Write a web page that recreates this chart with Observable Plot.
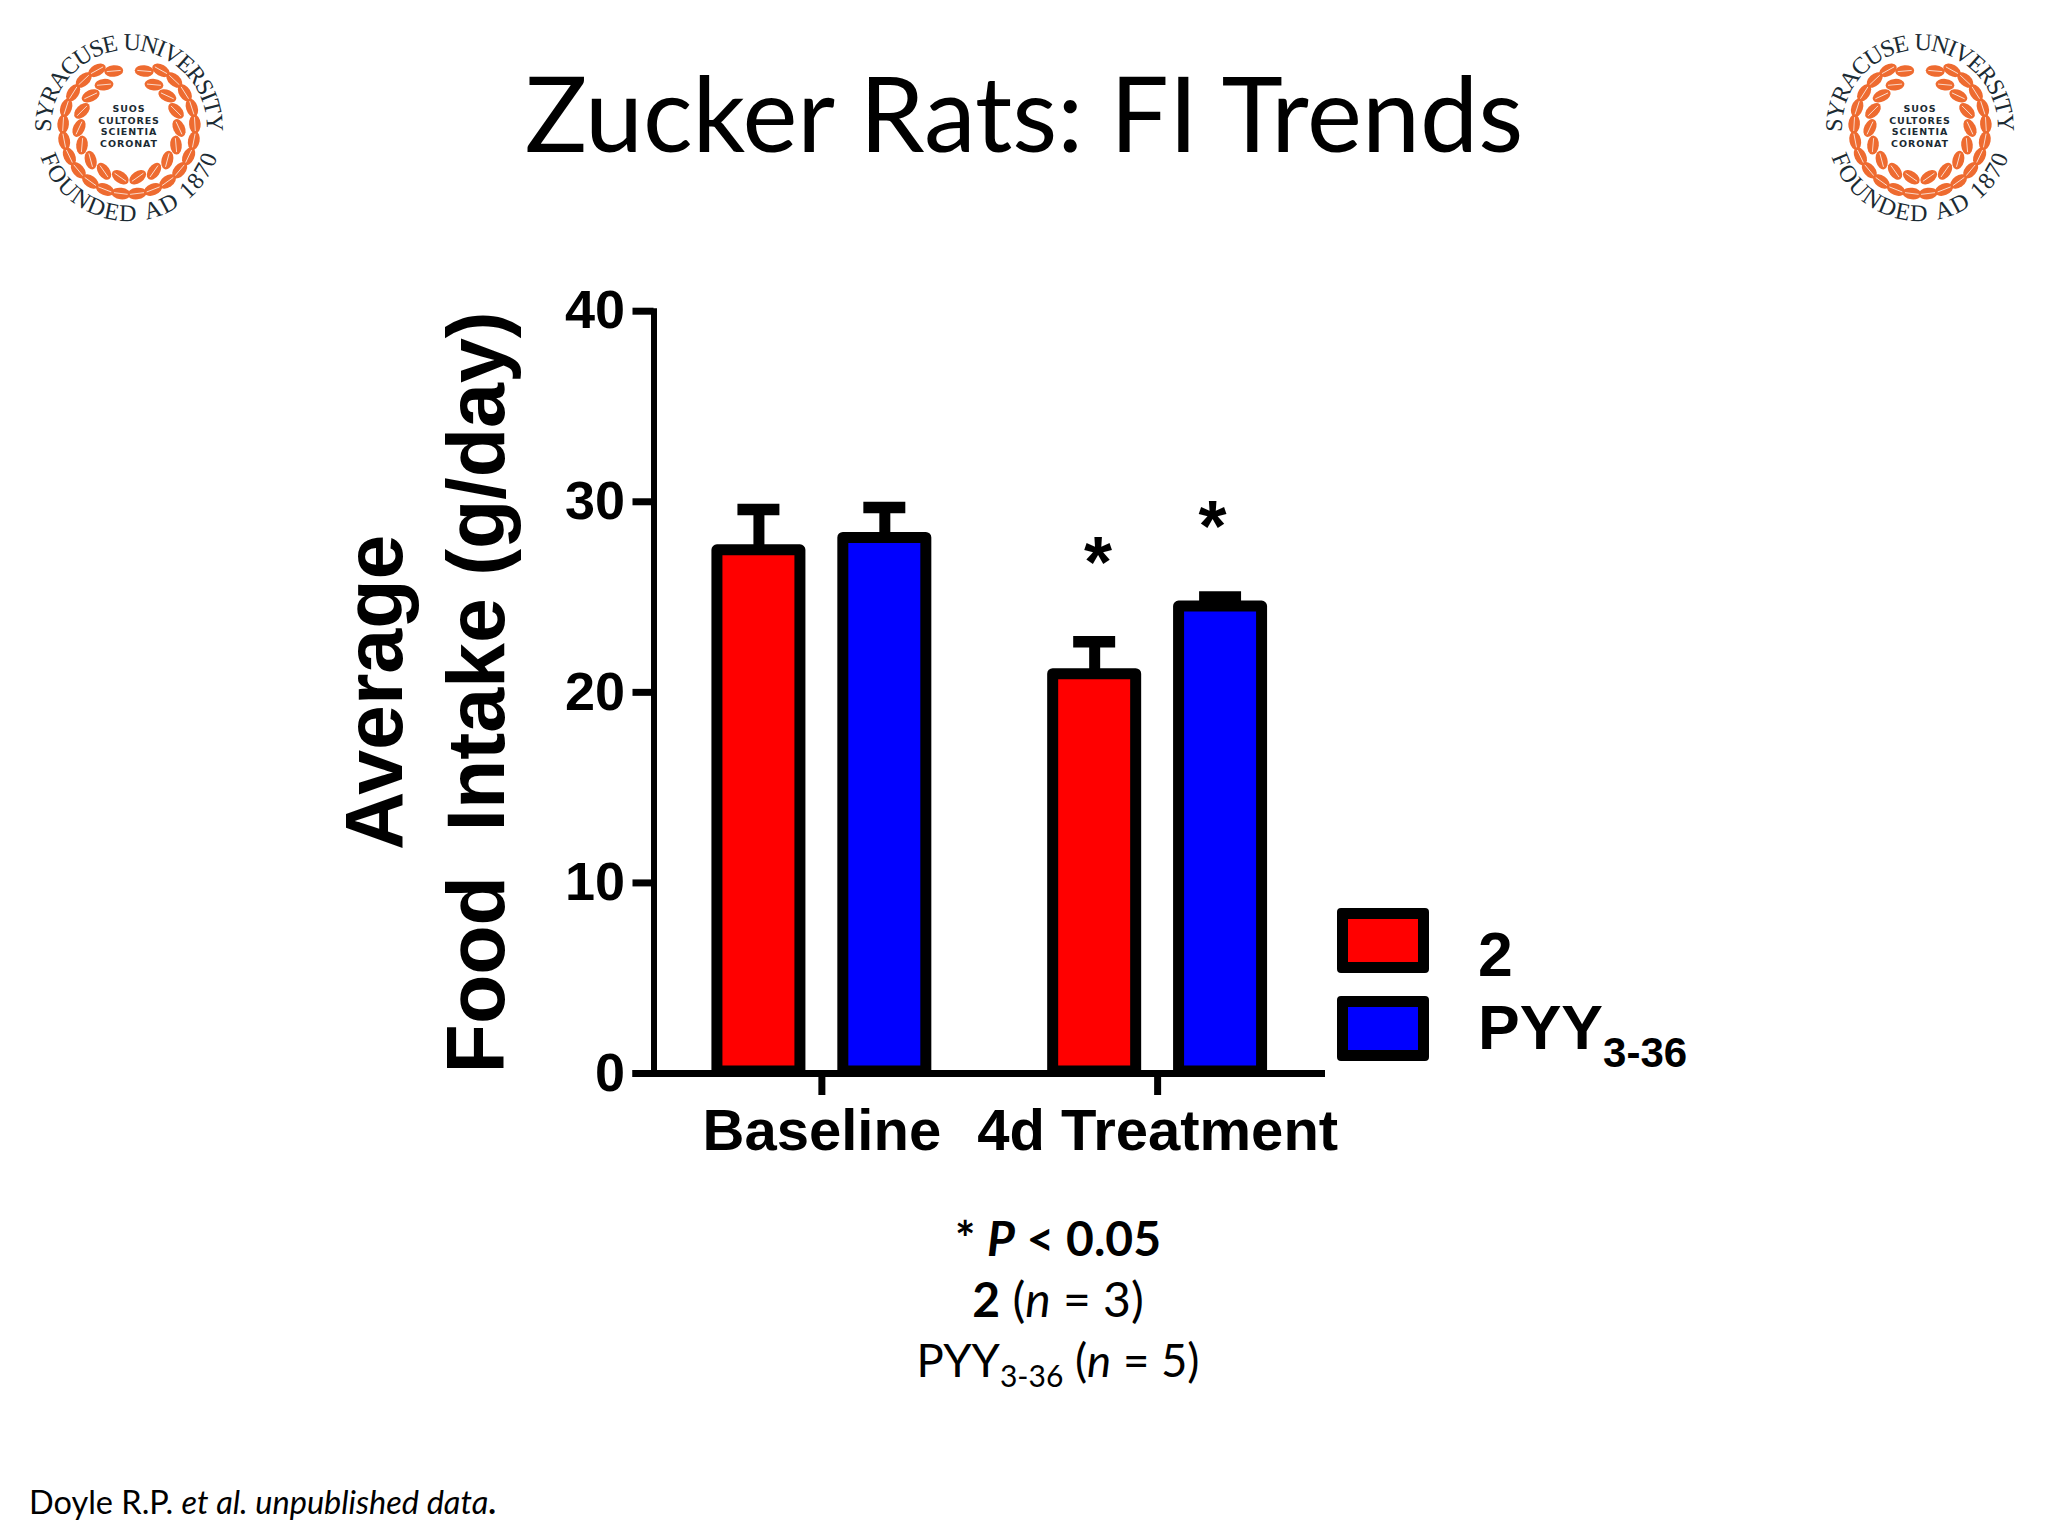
<!DOCTYPE html>
<html>
<head>
<meta charset="utf-8">
<script src="https://cdn.jsdelivr.net/npm/d3@7"></script>
<script src="https://cdn.jsdelivr.net/npm/@observablehq/plot@0.6"></script>
<style>
html,body{margin:0;padding:0;background:#fff;}
#slide{position:relative;width:2048px;height:1536px;overflow:hidden;background:#fff;color:#000;}
#head{height:240px;position:relative;}
#title{position:absolute;left:0;width:2048px;top:47px;text-align:center;font:400 104px/130px Lato,sans-serif;}
.logo{position:absolute;top:0;width:256px;height:256px;}
#chart svg{display:block;}
#legend div.sw{position:absolute;left:1337px;width:70px;height:42.7px;border:11px solid #000;border-radius:4px;}
#legend div.lb{position:absolute;left:1478px;font:bold 62.5px/70px "Liberation Sans",Arial,sans-serif;white-space:nowrap;}
#legend sub{font-size:42px;line-height:0;vertical-align:-18px;}
#notes{position:absolute;left:558px;width:1000px;top:1207px;text-align:center;font:400 48px/61px Lato,sans-serif;}
#notes .n3{font-size:45.5px;}
#notes sub{font-size:30px;line-height:0;vertical-align:-10px;}
#source{position:absolute;left:29px;top:1483px;font:400 32.5px/38px Lato,sans-serif;white-space:nowrap;}
</style>
</head>
<body>
<div id="slide">
  <div id="head">
    <svg class="logo" id="logoL" style="left:1px" viewBox="0 0 256 256"></svg>
    <svg class="logo" id="logoR" style="left:1792px" viewBox="0 0 256 256"></svg>
    <div id="title"></div>
  </div>
  <div id="chart"></div>
  <div id="legend"></div>
  <div id="notes"></div>
  <div id="source"></div>
</div>
<script>
const titleText = "Zucker Rats: FI Trends";
const periods = ["Baseline", "4d Treatment"];
const seriesNames = ["2", "PYY3-36"];
const seriesColors = ["#ff0000", "#0000ff"];
const periodOf = [0, 0, 1, 1];
const seriesOf = [0, 1, 0, 1];
const means = [27.45, 28.1, 20.95, 24.5];
const upper = [29.6, 29.7, 22.65, 25.0];
const starLevels = [null, null, 27.5, 29.4];
const yTicks = [0, 10, 20, 30, 40];
const yLabel = "Average\nFood\u00a0\u00a0Intake (g/day)";

// grouped bars on a group-index axis: each group spans one unit
const dodge = 0.1875, barHalf = 0.1236, capHalf = 0.0625;
const rows = means.map((m, i) => ({
  c: periodOf[i] + (seriesOf[i] ? dodge : -dodge),
  series: seriesNames[seriesOf[i]], mean: m, hi: upper[i], star: starLevels[i]
}));
const stars = rows.filter(d => d.star != null);

const chart = Plot.plot({
  width: 2048, height: 940,
  marginLeft: 653.5, marginRight: 723, marginTop: 70.7, marginBottom: 107,
  style: {fontFamily: "'Liberation Sans', Arial, sans-serif", fontWeight: "bold", background: "transparent", color: "#000"},
  y: {domain: [0, 40]},
  x: {domain: [-0.5, 1.5]},
  color: {domain: seriesNames, range: seriesColors},
  marks: [
    Plot.ruleX(rows, {x: "c", y1: "mean", y2: "hi", stroke: "#000", strokeWidth: 11}),
    Plot.ruleY(rows, {x1: d => d.c - capHalf, x2: d => d.c + capHalf, y: "hi", stroke: "#000", strokeWidth: 11.5}),
    Plot.rectY(rows, {x1: d => d.c - barHalf, x2: d => d.c + barHalf, y1: 0, y2: "mean", insetBottom: 2.1, fill: "series", stroke: "#000", strokeWidth: 11, strokeLinejoin: "round"}),
    Plot.text(stars.slice(0, 1), {x: "c", y: "star", text: () => "*", fontSize: 72, lineAnchor: "middle", dx: 3.4, dy: 15}),
    Plot.text(stars.slice(1), {x: "c", y: "star", text: () => "*", fontSize: 72, lineAnchor: "middle", dx: -8, dy: 15}),
    Plot.ruleY([0], {stroke: "#000", strokeWidth: 7, insetLeft: -21}),
    Plot.frame({anchor: "left", stroke: "#000", strokeWidth: 6}),
    Plot.axisY({ticks: yTicks, tickSize: 21, strokeWidth: 7, fontSize: 54, tickPadding: 8, label: null}),
    Plot.axisX({ticks: [0, 1], tickFormat: i => periods[i], tickSize: 22, strokeWidth: 7, fontSize: 58, tickPadding: 13, label: null}),
    Plot.text([yLabel], {frameAnchor: "left", textAnchor: "middle", lineAnchor: "middle", rotate: -90, fontSize: 80.7, lineHeight: 1.27, dx: -234})
  ]
});
document.getElementById("chart").appendChild(chart);

document.getElementById("title").textContent = titleText;

const legendRows = [
  {swatchTop: 908, labelTop: 919, html: "<b>2</b>"},
  {swatchTop: 996, labelTop: 992, html: "PYY<sub>3-36</sub>"}
];
document.getElementById("legend").innerHTML = legendRows.map((r, i) =>
  `<div class="sw" style="top:${r.swatchTop}px;background:${seriesColors[i]}"></div><div class="lb" style="top:${r.labelTop}px">${r.html}</div>`).join("");

document.getElementById("notes").innerHTML =
  `<div><b>* <i>P</i> &lt; 0.05</b></div><div><b>2</b> (<i>n</i> = 3)</div><div class="n3">PYY<sub>3-36</sub> (<i>n</i> = 5)</div>`;
document.getElementById("source").innerHTML = `Doyle R.P. <i>et al. unpublished data</i><b>.</b>`;

// Decorative seal, same drawing for both corners
function drawSeal(id) {
  const svg = d3.select("#" + id), c = 128, ink = "#1b2b33", orange = "#ee6b30";
  const rad = a => a * Math.PI / 180;
  const pt = (r, a) => [c + r * Math.sin(rad(a)), c - r * Math.cos(rad(a))];
  // ring text, one letter at a time: over the top (bottom=false) or along the bottom (bottom=true)
  const ring = (str, r, half, bottom) => {
    const nodes = Array.from(str).map(ch => svg.append("text")
      .attr("font-family", "'Liberation Serif',serif").attr("font-size", 24).attr("fill", ink)
      .attr("text-anchor", "middle").text(ch));
    const widths = nodes.map(n => Math.max(n.node().getComputedTextLength(), 7));
    const total = d3.sum(widths), arcLen = rad(2 * half) * r, gap = (arcLen - total) / (widths.length - 1);
    let s = 0;
    nodes.forEach((n, i) => {
      const t = -half + ((s + widths[i] / 2) / arcLen) * 2 * half;
      const p = pt(r, bottom ? 180 - t : t);
      n.attr("transform", `translate(${p[0]},${p[1]}) rotate(${bottom ? -t : t})`);
      s += widths[i] + gap;
    });
  };
  ring("SYRACUSE UNIVERSITY", 78, 93, false);
  ring("FOUNDED AD 1870", 93, 72, true);
  const leaf = (r, a, rot) => {
    const p = pt(r, a);
    const g = svg.append("g").attr("transform", `translate(${p[0]},${p[1]}) rotate(${rot})`);
    g.append("ellipse").attr("rx", 9.5).attr("ry", 5.8).attr("fill", orange);
    g.append("line").attr("x1", -7).attr("x2", 7).attr("stroke", "#fff").attr("stroke-width", 0.7);
  };
  for (const s of [-1, 1]) {
    for (let i = 0; i < 11; i++) { const a = s * (29 + i * 14.4); leaf(66, a, a); }
    for (let i = 0; i < 8; i++) { const a = s * (30 + i * 20); leaf(50, a, a - s * 25); }
    leaf(59, s * 15, s * 5);
  }
  ["SUOS", "CULTORES", "SCIENTIA", "CORONAT"].forEach((t, i) => {
    svg.append("text").attr("x", c).attr("y", 112 + i * 11.7).attr("text-anchor", "middle")
      .attr("font-family", "'DejaVu Sans',sans-serif").attr("font-weight", "bold").attr("font-size", 9.5)
      .attr("letter-spacing", 0.9).attr("fill", ink).text(t);
  });
}
drawSeal("logoL");
drawSeal("logoR");
</script>
</body>
</html>
